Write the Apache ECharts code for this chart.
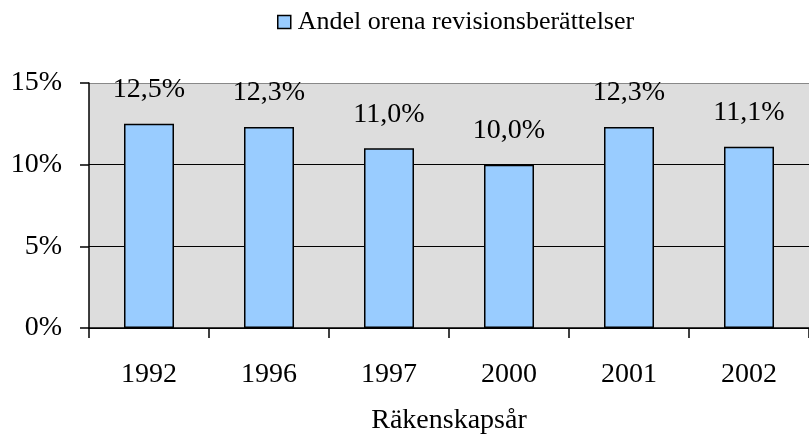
<!DOCTYPE html>
<html><head><meta charset="utf-8">
<script src="https://cdn.jsdelivr.net/npm/echarts@6/dist/echarts.min.js"></script>
<style>html,body{margin:0;padding:0;background:#fff}#c{width:809px;height:440px}</style>
</head><body><div id="c"></div>
<script>
var categories = ['1992','1996','1997','2000','2001','2002'];
var values = [12.5, 12.3, 11.0, 10.0, 12.3, 11.1];
var seriesName = 'Andel orena revisionsberättelser';
var yTicks = [0, 5, 10, 15];

var chart = echarts.init(document.getElementById('c'));
var font = 'Liberation Serif';
chart.setOption({
  animation: false,
  legend: {
    data: [seriesName], left: 277, top: 9, itemWidth: 13, itemHeight: 13, itemGap: 4,
    icon: 'rect', padding: 0,
    textStyle: {fontFamily: font, fontSize: 26, color: '#000', padding: [0, 0, 0, 2]},
    itemStyle: {borderColor: '#000', borderWidth: 1.5}
  },
  grid: {left: 89, top: 83, width: 727, height: 245, backgroundColor: '#DDDDDD', show: true, borderWidth: 0},
  xAxis: {
    type: 'category', data: categories,
    name: 'Räkenskapsår', nameLocation: 'middle', nameGap: 79,
    nameTextStyle: {fontFamily: font, fontSize: 28, color: '#000'},
    axisLine: {lineStyle: {color: '#000', width: 1.5}},
    axisTick: {show: true, length: 10, lineStyle: {color: '#000', width: 1.5}},
    axisLabel: {fontFamily: font, fontSize: 28, color: '#000', margin: 33}
  },
  yAxis: {
    type: 'value', min: 0, max: 15, interval: 5,
    axisLine: {show: true, lineStyle: {color: '#000', width: 1.5}},
    axisTick: {show: true, length: 9, lineStyle: {color: '#000', width: 1.5}},
    axisLabel: {fontFamily: font, fontSize: 28, color: '#000', margin: 27,
      formatter: function(v){ return yTicks.indexOf(v) >= 0 ? v + '%' : ''; }},
    splitLine: {show: true, lineStyle: {color: ['#000', '#000', '#000', '#888'], width: 1.2}}
  },
  series: [{
    name: seriesName, type: 'bar', data: values, barWidth: 50,
    itemStyle: {color: '#99CCFF', borderColor: '#000', borderWidth: 1.5},
    label: {show: true, position: 'top', distance: 20, fontFamily: font, fontSize: 28, color: '#000',
      formatter: function(p){ return p.value.toFixed(1).replace('.', ',') + '%'; }}
  }]
});
</script></body></html>
